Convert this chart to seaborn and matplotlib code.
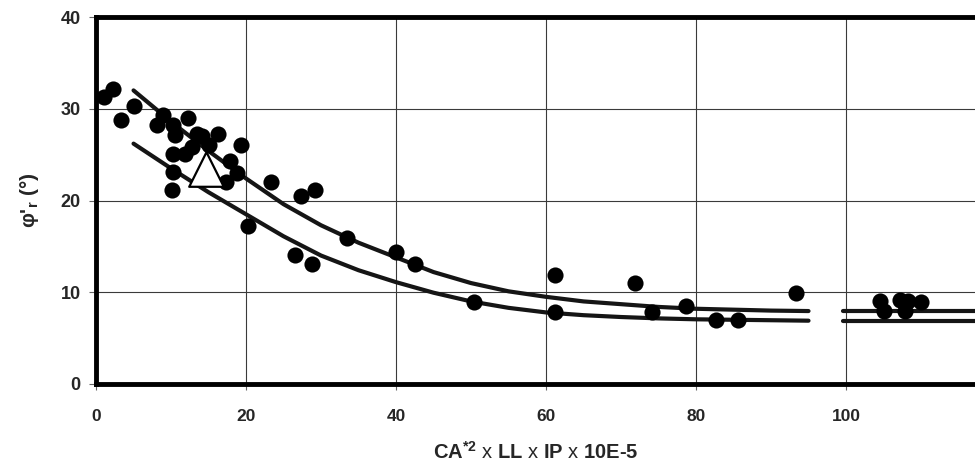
import numpy as np
import pandas as pd
import matplotlib
matplotlib.use("Agg")
import matplotlib.pyplot as plt
import seaborn as sns

# Measured residual friction angle vs. combined clay index
obs_x = [1.1, 2.3, 3.3, 5.1, 8.1, 8.9, 10.3, 12.3, 10.5, 13.4, 14.1, 16.3, 15.0,
         10.3, 11.9, 12.8, 19.3, 10.3, 10.1, 17.9, 18.8, 17.3, 23.3, 27.3, 29.2,
         20.3, 33.5, 26.5, 28.8, 40.0, 42.5, 50.4, 61.2, 61.2, 71.9, 74.1, 78.6,
         82.6, 85.6, 93.3, 104.5, 105.0, 107.2, 108.3, 107.9, 110.0]
obs_y = [31.3, 32.2, 28.8, 30.3, 28.2, 29.3, 28.2, 29.0, 27.1, 27.2, 27.0, 27.2, 26.1,
         25.1, 25.1, 25.8, 26.1, 23.1, 21.1, 24.3, 23.0, 22.0, 22.0, 20.5, 21.1,
         17.2, 15.95, 14.1, 13.1, 14.4, 13.1, 8.9, 11.9, 7.9, 11.0, 7.9, 8.5,
         7.0, 7.0, 9.95, 9.0, 7.95, 9.15, 9.05, 7.95, 8.95]

# Reference sample
ref_x = [14.7]
ref_y = [23.4]

# Upper and lower bounding curves (two segments each, broken near 100)
curve_x = [5, 10, 15, 20, 25, 30, 35, 40, 45, 50, 55, 60, 65, 70, 75, 80, 85, 90, 95]
upper_y = [32.0, 28.6, 25.4, 22.4, 19.6, 17.3, 15.4, 13.8, 12.2, 11.0, 10.1, 9.5,
           9.0, 8.7, 8.4, 8.2, 8.1, 8.0, 7.95]
lower_y = [26.2, 23.5, 20.9, 18.5, 16.1, 14.0, 12.4, 11.1, 9.95, 9.0, 8.3, 7.8,
           7.5, 7.3, 7.15, 7.05, 7.0, 6.95, 6.9]
tail_x = [99.6, 120.0]
upper_tail = [7.95, 7.95]
lower_tail = [6.9, 6.9]

x_ticks = [0, 20, 40, 60, 80, 100]
y_ticks = [0, 10, 20, 30, 40]

sns.set_theme(style="white")
plt.rcParams["font.family"] = ["Liberation Sans", "DejaVu Sans"]
plt.rcParams["mathtext.fontset"] = "custom"
plt.rcParams["mathtext.rm"] = "Liberation Sans"
plt.rcParams["mathtext.bf"] = "Liberation Sans:bold"
plt.rcParams["mathtext.it"] = "Liberation Sans:italic"

curves = pd.concat([
    pd.DataFrame({"x": curve_x, "y": upper_y, "seg": "u1"}),
    pd.DataFrame({"x": tail_x, "y": upper_tail, "seg": "u2"}),
    pd.DataFrame({"x": curve_x, "y": lower_y, "seg": "l1"}),
    pd.DataFrame({"x": tail_x, "y": lower_tail, "seg": "l2"}),
], ignore_index=True)
obs = pd.DataFrame({"x": obs_x, "y": obs_y})
ref = pd.DataFrame({"x": ref_x, "y": ref_y})

fig = plt.figure(figsize=(9.75, 4.74), dpi=100)
ax = fig.add_axes([0.0985, 0.1899, 0.9015, 0.7742])

sns.lineplot(data=curves, x="x", y="y", units="seg", estimator=None, sort=False,
             color="#151515", linewidth=3.0, ax=ax, zorder=2, legend=False)
sns.scatterplot(data=obs, x="x", y="y", color="black", s=135, linewidth=0,
                ax=ax, zorder=3, legend=False)
sns.scatterplot(data=ref, x="x", y="y", marker="^", color="white", s=620,
                edgecolor="black", linewidth=1.6, ax=ax, zorder=4, legend=False)

ax.set_xlim(0, 117.2)
ax.set_ylim(0, 40)
ax.set_xticks(x_ticks)
ax.set_yticks(y_ticks)
ax.grid(True, color="#3a3a3a", linewidth=0.8)
ax.set_axisbelow(True)

for side in ["left", "top", "bottom"]:
    ax.spines[side].set_visible(True)
    ax.spines[side].set_color("black")
    ax.spines[side].set_linewidth(3.5)
ax.spines["right"].set_visible(False)

ax.tick_params(axis="x", which="major", direction="out", length=4, width=0.8,
               color="#666666", pad=14, labelsize=12.5, bottom=True)
ax.tick_params(axis="y", which="major", direction="out", length=5, width=0.8,
               color="#666666", pad=6, labelsize=13, left=True)
for lab in ax.get_xticklabels() + ax.get_yticklabels():
    lab.set_fontweight("bold")

ax.set_xlabel(r"CA$^{\mathbf{*2}}$ $\mathrm{x}$ LL $\mathrm{x}$ IP $\mathrm{x}$ 10E-5",
              fontsize=14.5, fontweight="bold", labelpad=12)
ax.set_ylabel("φ'$_{\\mathbf{r}}$ (°)", fontsize=15, fontweight="bold", labelpad=14)

fig.savefig("out.png", dpi=100)
